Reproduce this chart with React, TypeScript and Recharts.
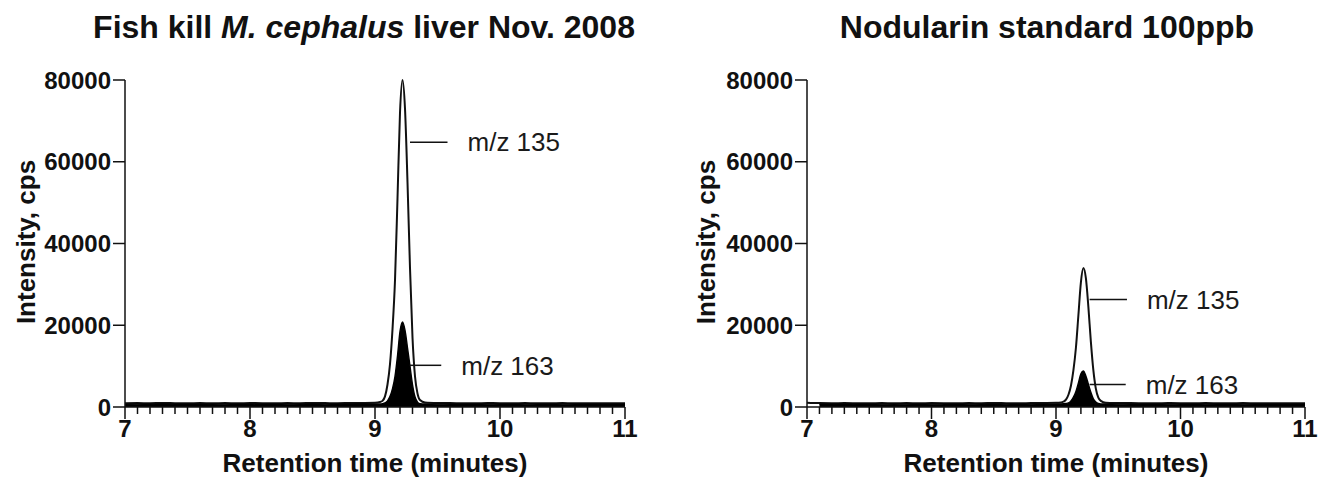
import { ComposedChart, Area, XAxis, YAxis, ReferenceLine } from "recharts";

/* Retention time sampling points (minutes) shared by both chromatograms */
const retentionTimes = [
  7.0, 7.1, 7.2, 7.3, 7.4, 7.5, 7.6, 7.7, 7.8, 7.9, 8.0, 8.1, 8.2, 8.3, 8.4, 8.5, 8.6, 8.7, 8.8, 8.9, 9.0,
  9.04, 9.06, 9.08, 9.1, 9.12, 9.14, 9.16, 9.18, 9.2, 9.22, 9.24, 9.26, 9.28, 9.3, 9.32, 9.34, 9.36,
  9.4,
  9.5, 9.6, 9.7, 9.8, 9.9, 10.0, 10.1, 10.2, 10.3, 10.4, 10.5, 10.6, 10.7, 10.8, 10.9, 11.0,
];

/* Fish kill liver extract, intensity in cps */
const liverMz135 = [
  900, 950, 930, 970, 940, 920, 960, 930, 950, 910, 960, 940, 920, 950, 930, 970, 950, 920, 980, 1000, 1050,
  1200, 1500, 2600, 5500, 10500, 19000, 31000, 51000, 72000, 80000, 73000, 55000, 34000, 17000, 7500, 3300, 1700,
  1100,
  980, 950, 940, 930, 960, 940, 920, 950, 930, 910, 950, 930, 920, 940, 930, 910,
];
const liverMz163 = [
  650, 700, 680, 720, 690, 670, 710, 690, 700, 660, 710, 690, 680, 700, 690, 720, 700, 680, 710, 720, 740,
  760, 820, 1000, 1500, 2600, 4500, 7500, 12500, 18500, 20800, 18800, 14500, 10000, 5500, 2500, 1200, 800,
  720,
  700, 690, 680, 670, 700, 690, 680, 700, 690, 660, 700, 690, 680, 690, 680, 670,
];

/* Nodularin 100ppb standard, intensity in cps */
const standardMz135 = [
  1050, 950, 930, 960, 940, 920, 950, 930, 960, 910, 950, 940, 920, 960, 930, 970, 940, 920, 970, 990, 1020,
  1100, 1300, 1800, 3000, 5200, 9000, 14500, 22500, 30500, 34000, 31500, 24500, 16000, 9000, 4500, 2300, 1500,
  1050,
  980, 950, 940, 930, 950, 940, 920, 950, 930, 910, 950, 930, 920, 940, 930, 910,
];
const standardMz163 = [
  null, 690, 680, 710, 690, 680, 700, 690, 700, 670, 700, 690, 680, 700, 690, 710, 700, 680, 700, 710, 720,
  740, 780, 850, 1000, 1500, 2400, 3800, 5900, 8100, 8800, 7600, 5600, 3600, 2000, 1200, 850, 760,
  720,
  700, 690, 680, 670, 700, 690, 680, 700, 690, 660, 700, 690, 680, 690, 680, 670,
];

const intensityTicks = [0, 20000, 40000, 60000, 80000];
const timeTicks = [
  7, 7.1, 7.2, 7.3, 7.4, 7.5, 7.6, 7.7, 7.8, 7.9,
  8, 8.1, 8.2, 8.3, 8.4, 8.5, 8.6, 8.7, 8.8, 8.9,
  9, 9.1, 9.2, 9.3, 9.4, 9.5, 9.6, 9.7, 9.8, 9.9,
  10, 10.1, 10.2, 10.3, 10.4, 10.5, 10.6, 10.7, 10.8, 10.9,
  11,
];

const INK = "#111";
const FONT = "'Liberation Sans', Arial, Helvetica, sans-serif";

const buildRows = (mz135: (number | null)[], mz163: (number | null)[]) =>
  retentionTimes.map((t, i) => ({ t, mz135: mz135[i], mz163: mz163[i] }));

/* Major ticks (whole minutes) get a label and a longer line, minor ticks only a short line */
function TimeTick(props: any) {
  const { x, y, payload } = props;
  const major = Number.isInteger(payload.value);
  return (
    <g>
      <line x1={x} x2={x} y1={y} y2={y + (major ? 12 : 7)} stroke={INK} strokeWidth={1.5} />
      {major && (
        <text x={x} y={y + 30} textAnchor="middle" fontSize={24} fontWeight={700} fill={INK}>
          {payload.value}
        </text>
      )}
    </g>
  );
}

interface Callout {
  label: string;
  from: number;
  to: number;
  level: number;
}

interface PanelProps {
  left: number;
  width: number;
  axisWidth: number;
  right: number;
  rows: ReturnType<typeof buildRows>;
  callouts: Callout[];
}

function Panel({ left, width, axisWidth, right, rows, callouts }: PanelProps) {
  return (
    <div style={{ position: "absolute", left, top: 0 }}>
      <ComposedChart
        width={width}
        height={487}
        data={rows}
        margin={{ top: 80, right, bottom: 0, left: 0 }}
      >
        <XAxis
          dataKey="t"
          type="number"
          domain={[7, 11]}
          ticks={timeTicks}
          interval={0}
          height={80}
          tickLine={false}
          tickSize={0}
          tickMargin={0}
          axisLine={{ stroke: INK, strokeWidth: 1.5 }}
          tick={(p: any) => <TimeTick {...p} />}
        />
        <YAxis
          type="number"
          domain={[0, 80000]}
          ticks={intensityTicks}
          interval={0}
          width={axisWidth}
          tickSize={12}
          tickMargin={2}
          axisLine={{ stroke: INK, strokeWidth: 1.5 }}
          tickLine={{ stroke: INK, strokeWidth: 1.5 }}
          tick={{ fill: INK, fontSize: 24, fontWeight: 700 }}
        />
        <Area
          dataKey="mz135"
          type="monotone"
          fill="#fff"
          fillOpacity={1}
          stroke={INK}
          strokeWidth={2}
          dot={false}
          activeDot={false}
          isAnimationActive={false}
        />
        <Area
          dataKey="mz163"
          type="monotone"
          fill="#000"
          fillOpacity={1}
          stroke="#000"
          strokeWidth={1.4}
          dot={false}
          activeDot={false}
          isAnimationActive={false}
        />
        {callouts.map((c) => (
          <ReferenceLine
            key={c.label}
            segment={[
              { x: c.from, y: c.level },
              { x: c.to, y: c.level },
            ]}
            stroke={INK}
            strokeWidth={1.5}
            label={{
              value: c.label,
              position: "right",
              offset: 20,
              fill: "#1a1a1a",
              fontSize: 26,
            }}
          />
        ))}
      </ComposedChart>
    </div>
  );
}

export default function App() {
  return (
    <div
      style={{
        position: "absolute",
        left: 0,
        top: 0,
        width: 1332,
        height: 487,
        background: "#fff",
        fontFamily: FONT,
      }}
    >
      <Panel
        left={0}
        width={660}
        axisWidth={125}
        right={35}
        rows={buildRows(liverMz135, liverMz163)}
        callouts={[
          { label: "m/z 135", from: 9.28, to: 9.58, level: 64800 },
          { label: "m/z 163", from: 9.28, to: 9.53, level: 10200 },
        ]}
      />
      <Panel
        left={680}
        width={652}
        axisWidth={127}
        right={27}
        rows={buildRows(standardMz135, standardMz163)}
        callouts={[
          { label: "m/z 135", from: 9.27, to: 9.57, level: 26300 },
          { label: "m/z 163", from: 9.27, to: 9.56, level: 5500 },
        ]}
      />

      {/* titles and axis titles */}
      <svg
        width={1332}
        height={487}
        style={{ position: "absolute", left: 0, top: 0, pointerEvents: "none" }}
      >
        <g fill={INK} fontWeight={700}>
          <text x={364} y={38} textAnchor="middle" fontSize={32}>
            Fish kill <tspan fontStyle="italic">M. cephalus</tspan> liver Nov. 2008
          </text>
          <text x={1047} y={38} textAnchor="middle" fontSize={32}>
            Nodularin standard 100ppb
          </text>
          <text x={375} y={472} textAnchor="middle" fontSize={26}>
            Retention time (minutes)
          </text>
          <text x={1056} y={472} textAnchor="middle" fontSize={26}>
            Retention time (minutes)
          </text>
          <text x={35} y={242} textAnchor="middle" fontSize={26} transform="rotate(-90 35 242)">
            Intensity, cps
          </text>
          <text x={715} y={242} textAnchor="middle" fontSize={26} transform="rotate(-90 715 242)">
            Intensity, cps
          </text>
        </g>
      </svg>
    </div>
  );
}
